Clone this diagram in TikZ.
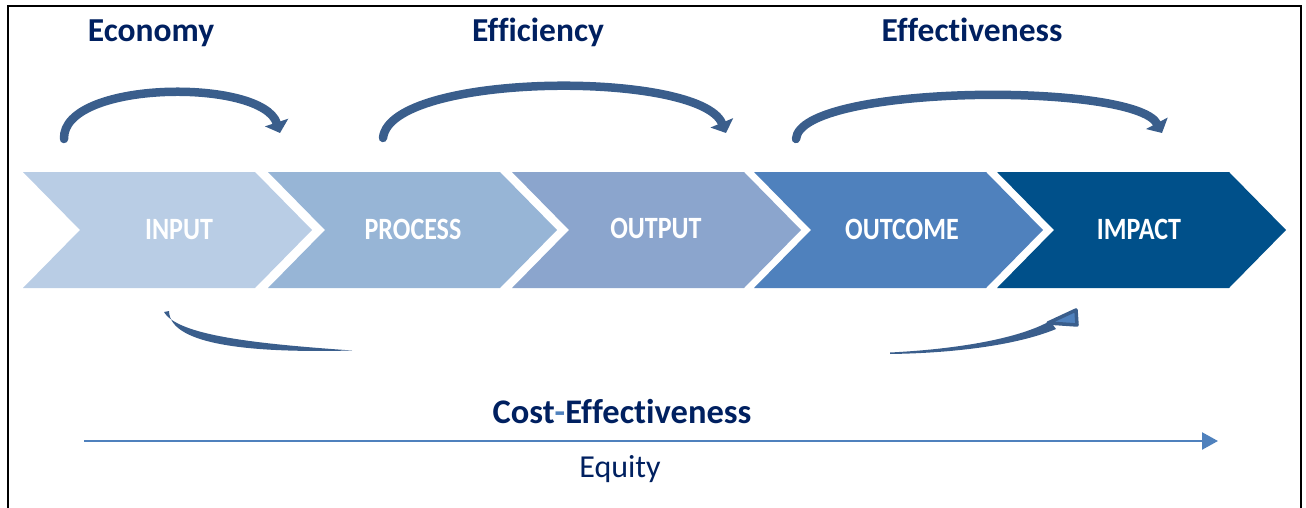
\documentclass[tikz,border=0pt]{standalone}
\usepackage{fontspec}
\usepackage{graphicx}
\setmainfont{Carlito}[Ligatures=NoCommon]
\usetikzlibrary{arrows.meta}
\definecolor{cInput}{HTML}{B9CDE5}
\definecolor{cProcess}{HTML}{97B5D6}
\definecolor{cOutput}{HTML}{8BA5CD}
\definecolor{cOutcome}{HTML}{4F81BD}
\definecolor{cImpact}{HTML}{00508A}
\definecolor{navy}{HTML}{002060}
\definecolor{arcdark}{HTML}{3A5E8C}
\definecolor{accent}{HTML}{4F81BD}
\tikzset{
  stagelbl/.style={anchor=base, text=white, font=\fontsize{31}{31}\selectfont\bfseries, inner sep=0pt},
  headlbl/.style={anchor=base, text=navy, font=\fontsize{33.5}{34}\selectfont\bfseries, inner sep=0pt},
  arcarrow/.style={draw=arcdark, line width=8.5pt, line cap=round, -{Triangle[length=11pt,width=24pt]}},
  bowfill/.style={fill=arcdark, draw=none},
}
\newcommand{\chevron}[2]{%
  \fill[#2] (#1,172) -- ++(232,0) -- ++(57,58) -- ++(-57,58) -- ++(-232,0) -- ++(57,-58) -- cycle;}
\begin{document}
\begin{tikzpicture}[x=1pt,y=-1pt]
\useasboundingbox (0,0) rectangle (1306,508);
% frame
\draw[line width=2.6pt, black] (8,508) -- (8,6) -- (1301,6) -- (1301,508);

% chevrons
\chevron{23}{cInput}
\chevron{268}{cProcess}
\chevron{512}{cOutput}
\chevron{754}{cOutcome}
\chevron{997}{cImpact}

\node[stagelbl] (input)   at (179,239) {\scalebox{0.84}[1]{INPUT}};
\node[stagelbl] (process) at (413,239) {\scalebox{0.84}[1]{PROCESS}};
\node[stagelbl] (output)  at (656,238) {\scalebox{0.84}[1]{OUTPUT}};
\node[stagelbl] (outcome) at (902,239) {\scalebox{0.84}[1]{OUTCOME}};
\node[stagelbl] (impact)  at (1139,239) {\scalebox{0.84}[1]{IMPACT}};

% headings
\node[headlbl] (economy)  at (151,42) {Economy};
\node[headlbl] (efficiency) at (538,42) {Efficiency};
\node[headlbl] (effectiveness) at (972,42) {Effectiveness};

% top curved arrows
\coordinate (a1s) at (64,139);
\coordinate (a1e) at (280,133);
\coordinate (a2s) at (383,138);
\coordinate (a2e) at (726,133);
\coordinate (a3s) at (796,139);
\coordinate (a3e) at (1162,133);
\draw[arcarrow] (a1s) .. controls (62,80) and (262,78) .. (a1e);
\draw[arcarrow] (a2s) .. controls (390,72) and (700,70) .. (a2e);
\draw[arcarrow] (a3s) .. controls (800,84) and (1135,82) .. (a3e);

% bottom long curved arrow (middle part hidden)
\coordinate (b1s) at (164,312);
\coordinate (b1e) at (352,350.5);
\coordinate (b2s) at (890,352.5);
\coordinate (b2e) at (1078,312);
\fill[bowfill] (b1s) .. controls (178,336) and (260,344) .. (b1e)
   .. controls (255,353) and (170,346) .. (169,311) -- cycle;
\fill[bowfill] (b2s) .. controls (960,349) and (1020,338) .. (1050,321)
   -- (1056,329) .. controls (1020,344) and (960,353) .. (890,354) -- cycle;
\filldraw[fill=accent, draw=arcdark, line width=3.5pt, line join=round]
   (1048,323) -- (1076,310) -- (1077,325) -- cycle;

% cost-effectiveness / equity
\node[anchor=base, text=navy, font=\fontsize{34.5}{35}\selectfont\bfseries, inner sep=0pt] (costeff) at (622,423) {Cost\textcolor{accent}{-}Effectiveness};
\coordinate (eqs) at (84,441);
\coordinate (eqe) at (1218,441);
\draw[accent, line width=2.4pt, -{Triangle[length=16pt,width=17pt]}] (eqs) -- (eqe);
\node[anchor=base, text=navy, font=\fontsize{32}{32}\selectfont, inner sep=0pt] (equity) at (620,477) {Equity};
\end{tikzpicture}
\end{document}
